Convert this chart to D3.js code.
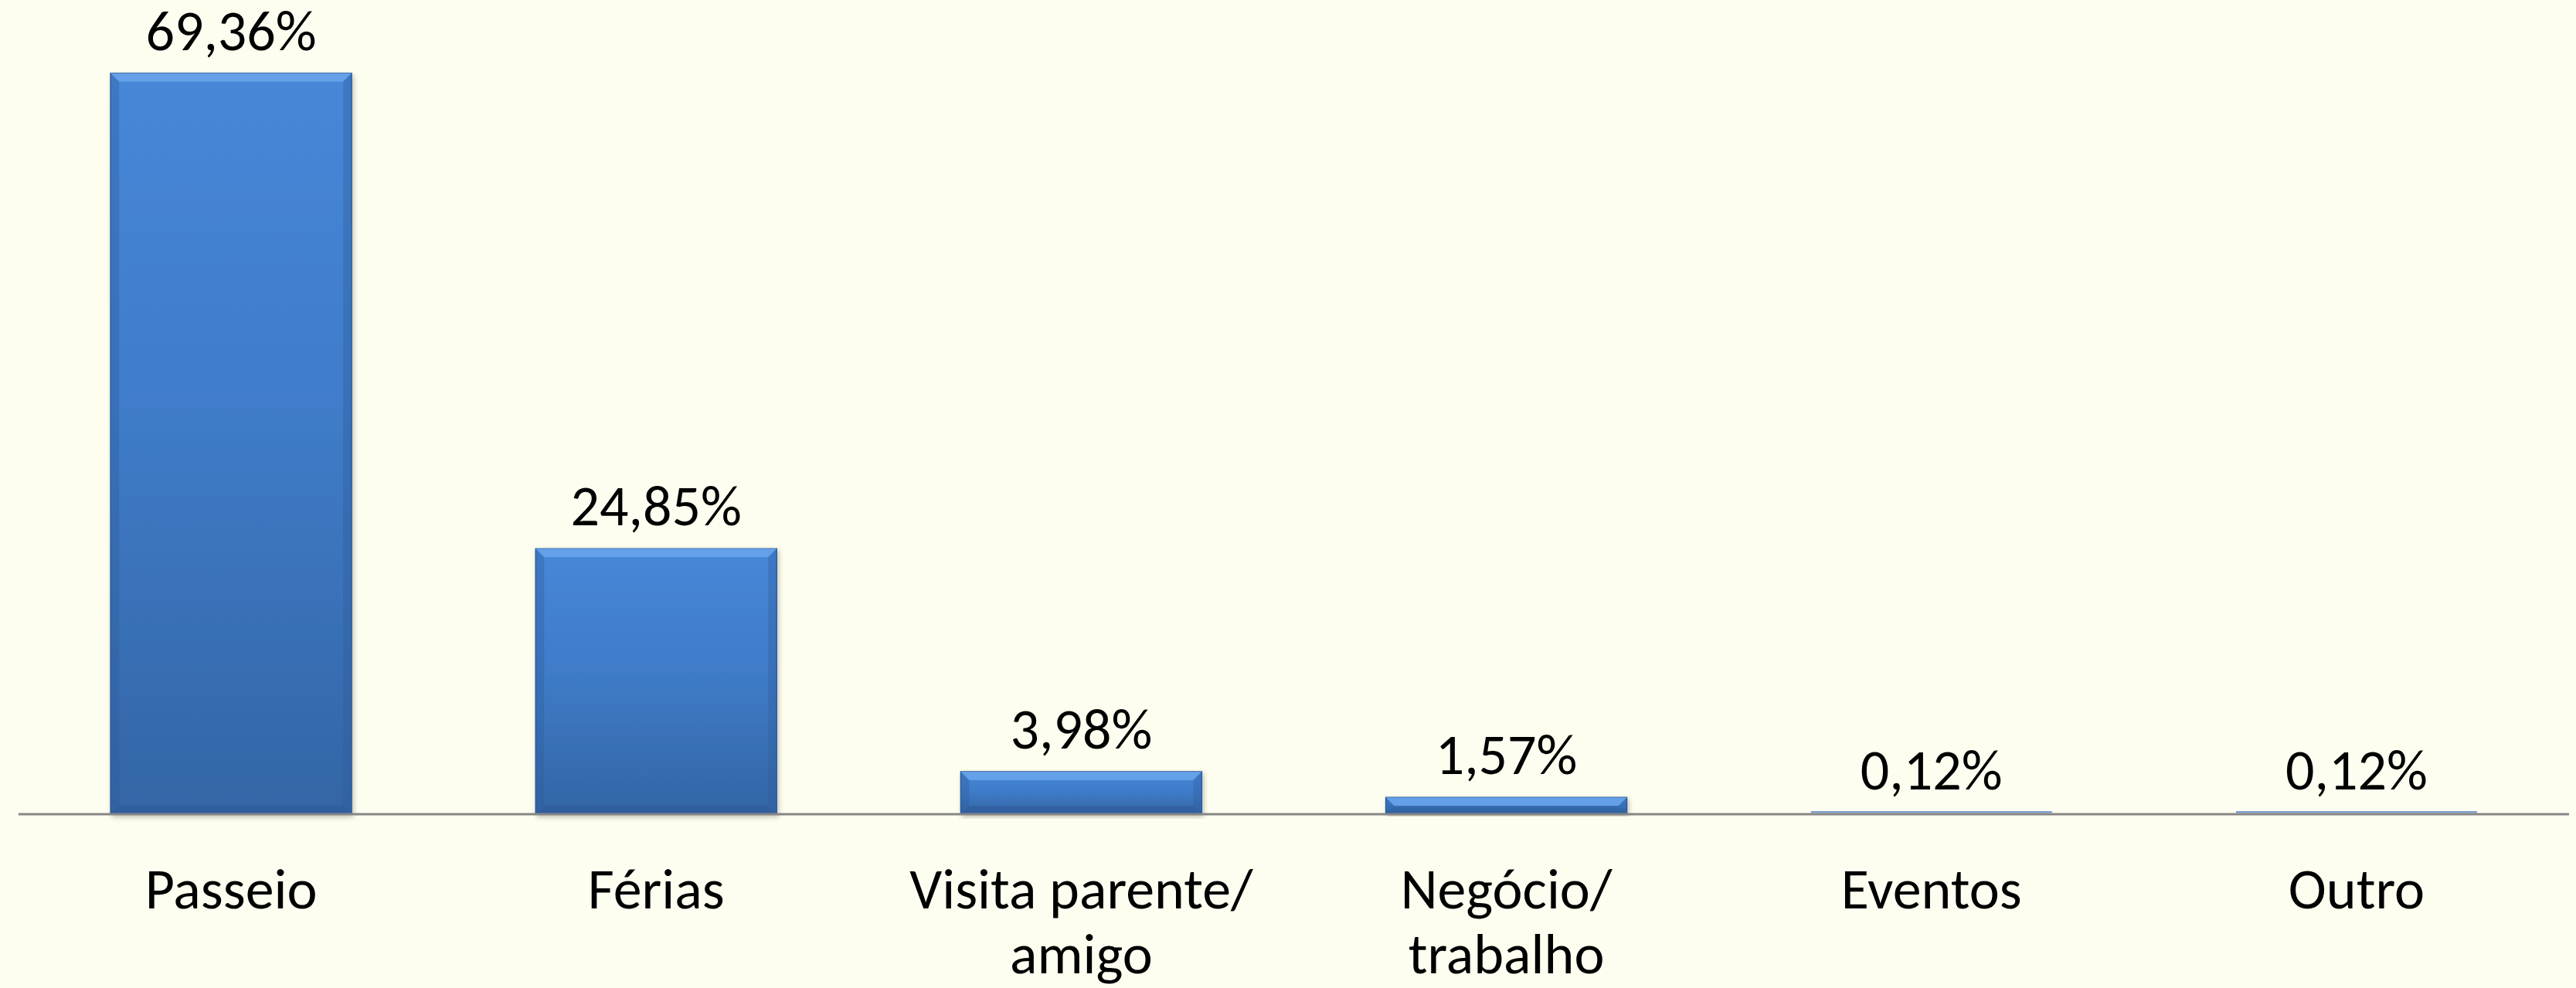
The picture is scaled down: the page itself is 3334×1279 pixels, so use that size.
<!DOCTYPE html>
<html>
<head>
<meta charset="utf-8">
<script src="https://cdn.jsdelivr.net/npm/d3@7"></script>
<style>
  html, body { margin: 0; padding: 0; background: #fefef0; }
  svg { display: block; }
  text { font-family: Calibri, Carlito, Lato, "Open Sans", sans-serif; fill: #000; }
</style>
</head>
<body>
<div id="chart"></div>
<script>
const WIDTH = 3334;
const HEIGHT = 1279;

// motivos da viagem
const categories = [["Passeio"], ["Férias"], ["Visita parente/", "amigo"], ["Negócio/", "trabalho"], ["Eventos"], ["Outro"]];
const values = [69.36, 24.85, 3.98, 1.57, 0.12, 0.12];
const valueLabels = ["69,36%", "24,85%", "3,98%", "1,57%", "0,12%", "0,12%"];

const margin = { left: 24, right: 9, top: 86, bottom: 225 };
const baseY = HEIGHT - margin.bottom;

const svg = d3.select("#chart").append("svg")
    .attr("width", WIDTH)
    .attr("height", HEIGHT);

svg.append("rect")
    .attr("width", WIDTH)
    .attr("height", HEIGHT)
    .attr("fill", "#fefef0");

const defs = svg.append("defs");

const grad = defs.append("linearGradient")
    .attr("id", "barFill")
    .attr("x1", 0).attr("y1", 0).attr("x2", 0).attr("y2", 1);
grad.append("stop").attr("offset", "0%").attr("stop-color", "#4787d8");
grad.append("stop").attr("offset", "45%").attr("stop-color", "#3f7cc9");
grad.append("stop").attr("offset", "100%").attr("stop-color", "#3465a5");

const shadow = defs.append("filter")
    .attr("id", "shadow")
    .attr("x", "-10%").attr("y", "-10%").attr("width", "120%").attr("height", "120%");
shadow.append("feDropShadow")
    .attr("dx", 2).attr("dy", 3).attr("stdDeviation", 3)
    .attr("flood-color", "#000").attr("flood-opacity", 0.25);

const x = d3.scaleBand()
    .domain(d3.range(values.length))
    .range([margin.left, WIDTH - margin.right])
    .paddingInner(0.433)
    .paddingOuter(0.2165);

const y = d3.scaleLinear()
    .domain([0, 70])
    .range([baseY, margin.top]);

const bars = svg.selectAll(".bar")
    .data(values)
    .enter()
    .append("g")
    .attr("class", "bar");

bars.append("rect")
    .attr("x", (d, i) => x(i))
    .attr("y", d => y(d))
    .attr("width", x.bandwidth())
    .attr("height", d => baseY - y(d))
    .attr("fill", "url(#barFill)")
    .attr("stroke", "#2f5d98")
    .attr("stroke-width", 1.5)
    .attr("filter", "url(#shadow)");

// bevel: lighter top strip and darker sides
bars.each(function (d, i) {
    const g = d3.select(this);
    const x0 = x(i), x1 = x(i) + x.bandwidth();
    const y0 = y(d), h = baseY - y0;
    const b = Math.min(11, h / 2);
    if (h < 4) {
        // barras muito finas: so uma linha por cima do eixo
        g.select("rect")
            .attr("y", baseY - 4)
            .attr("height", 2.5)
            .attr("fill", "#7b9fcd")
            .attr("stroke", "none")
            .attr("filter", null);
        return;
    }
    g.append("path")
        .attr("d", `M${x0},${y0}L${x1},${y0}L${x1 - b},${y0 + b}L${x0 + b},${y0 + b}Z`)
        .attr("fill", "#6aa6ec")
        .attr("opacity", 0.85);
    g.append("path")
        .attr("d", `M${x0},${y0}L${x0 + b},${y0 + b}L${x0 + b},${baseY - b}L${x0},${baseY}Z`)
        .attr("fill", "#2d5c9a")
        .attr("opacity", 0.35);
    g.append("path")
        .attr("d", `M${x1},${y0}L${x1 - b},${y0 + b}L${x1 - b},${baseY - b}L${x1},${baseY}Z`)
        .attr("fill", "#2d5c9a")
        .attr("opacity", 0.35);
    g.append("path")
        .attr("d", `M${x0},${baseY}L${x0 + b},${baseY - b}L${x1 - b},${baseY - b}L${x1},${baseY}Z`)
        .attr("fill", "#2a5590")
        .attr("opacity", 0.4);
});

// value labels
svg.selectAll(".value")
    .data(values)
    .enter()
    .append("text")
    .attr("class", "value")
    .attr("x", (d, i) => x(i) + x.bandwidth() / 2)
    .attr("y", d => y(d) - 30)
    .attr("text-anchor", "middle")
    .style("font-size", "74px")
    .text((d, i) => valueLabels[i]);

// axis line
svg.append("line")
    .attr("x1", margin.left)
    .attr("x2", WIDTH - margin.right)
    .attr("y1", baseY)
    .attr("y2", baseY)
    .attr("stroke", "#868686")
    .attr("stroke-width", 3);

// category labels
const cat = svg.selectAll(".cat")
    .data(categories)
    .enter()
    .append("text")
    .attr("class", "cat")
    .attr("text-anchor", "middle")
    .style("font-size", "74px")
    .attr("y", baseY + 122);

cat.selectAll("tspan")
    .data((d, i) => d.map(t => ({ t, i })))
    .enter()
    .append("tspan")
    .attr("x", d => x(d.i) + x.bandwidth() / 2)
    .attr("dy", (d, j) => j === 0 ? 0 : 84)
    .text(d => d.t);
</script>
</body>
</html>
